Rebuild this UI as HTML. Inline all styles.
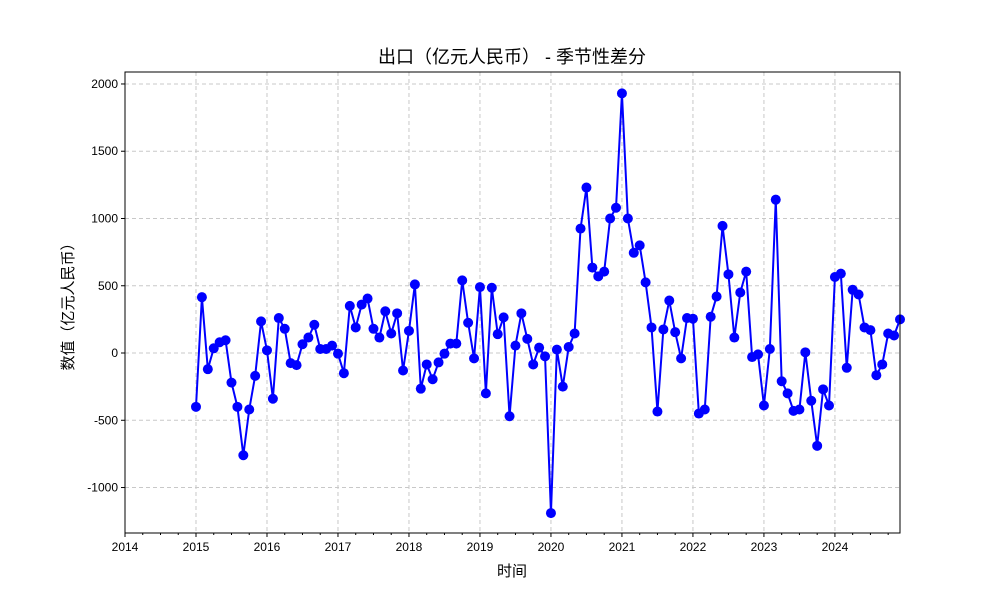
<!DOCTYPE html>
<html><head><meta charset="utf-8"><style>
body{margin:0;background:#fff;}
svg text{font-family:"Liberation Sans","Noto Sans CJK SC",sans-serif;fill:#000;}
</style></head><body>
<svg id="chart" width="1000" height="600" xmlns="http://www.w3.org/2000/svg">
<rect width="1000" height="600" fill="#fff"/>
<text x="512" y="63" font-size="18" text-anchor="middle">出口（亿元人民币） - 季节性差分</text>
<g id="grid"></g><g id="axes"></g><g id="series"></g>
<rect x="125" y="72" width="775" height="461" fill="none" stroke="#000" stroke-width="1"/>
<text x="512" y="576" font-size="15" text-anchor="middle">时间</text>
<text transform="translate(73,303) rotate(-90)" font-size="15" text-anchor="middle">数值（亿元人民币）</text>
</svg>
<script>
const startYear = 2015;
const values = [
-400,415,-120,35,80,95,-220,-400,-760,-420,-170,235,
20,-340,260,180,-75,-90,65,115,210,30,30,55,
-5,-150,350,190,360,405,180,115,310,145,295,-130,
165,510,-265,-85,-195,-70,-5,70,70,540,225,-40,
490,-300,485,140,265,-470,55,295,105,-85,40,-25,
-1190,25,-250,45,145,925,1230,635,570,605,1000,1080,
1930,1000,745,800,525,190,-435,175,390,155,-40,260,
255,-450,-420,270,420,945,585,115,450,605,-30,-10,
-390,30,1140,-210,-300,-430,-420,5,-355,-690,-270,-390,
565,590,-110,470,435,190,170,-165,-85,145,130,250];
const yTicks = [-1000,-500,0,500,1000,1500,2000];
const xTicks = [2014,2015,2016,2017,2018,2019,2020,2021,2022,2023,2024];

const L=125,R=900,T=72,B=533;
const xMin=2014,xMax=2024+11/12;
const yMin=-1338,yMax=2089;
const xs=v=>L+(v-xMin)/(xMax-xMin)*(R-L);
const ys=v=>B-(v-yMin)/(yMax-yMin)*(B-T);
const NS="http://www.w3.org/2000/svg";
function mk(tag,attrs,parent){const e=document.createElementNS(NS,tag);for(const k in attrs)e.setAttribute(k,attrs[k]);parent.appendChild(e);return e;}
const grid=document.getElementById('grid'),axes=document.getElementById('axes'),series=document.getElementById('series');

yTicks.forEach(t=>{
  const y=ys(t);
  const g=mk('line',{x1:L,x2:R,y1:y,y2:y,stroke:'#c8c8c8','stroke-dasharray':'4,3','stroke-width':1},grid);
  
  
  mk('line',{x1:L-4,x2:L,y1:y,y2:y,stroke:'#000'},axes);
  const tx=mk('text',{x:L-7,y:y+4,'font-size':12,'text-anchor':'end'},axes);
  tx.textContent=t;
  
  
});
xTicks.forEach(t=>{
  const x=xs(t);
  const g=mk('line',{x1:x,x2:x,y1:T,y2:B,stroke:'#c8c8c8','stroke-dasharray':'4,3','stroke-width':1},grid);
  
  
  mk('line',{x1:x,x2:x,y1:B,y2:B+4,stroke:'#000'},axes);
  const tx=mk('text',{x:x,y:B+18,'font-size':12,'text-anchor':'middle'},axes);
  tx.textContent=t;
  
  
  for(let q=1;q<4;q++){const xm=xs(t+q/4);if(xm<=R)mk('line',{x1:xm,x2:xm,y1:B,y2:B+2,stroke:'#000'},axes);}
});
const pts=values.map((v,i)=>[xs(startYear+i/12),ys(v)]);
const line=mk('polyline',{points:pts.map(p=>p.join(',')).join(' '),fill:'none',stroke:'#0000ff','stroke-width':2},series);


pts.forEach(p=>{
  const c=mk('circle',{cx:p[0],cy:p[1],r:5,fill:'#0000ff'},series);
  
  
});
</script>
</body></html>
